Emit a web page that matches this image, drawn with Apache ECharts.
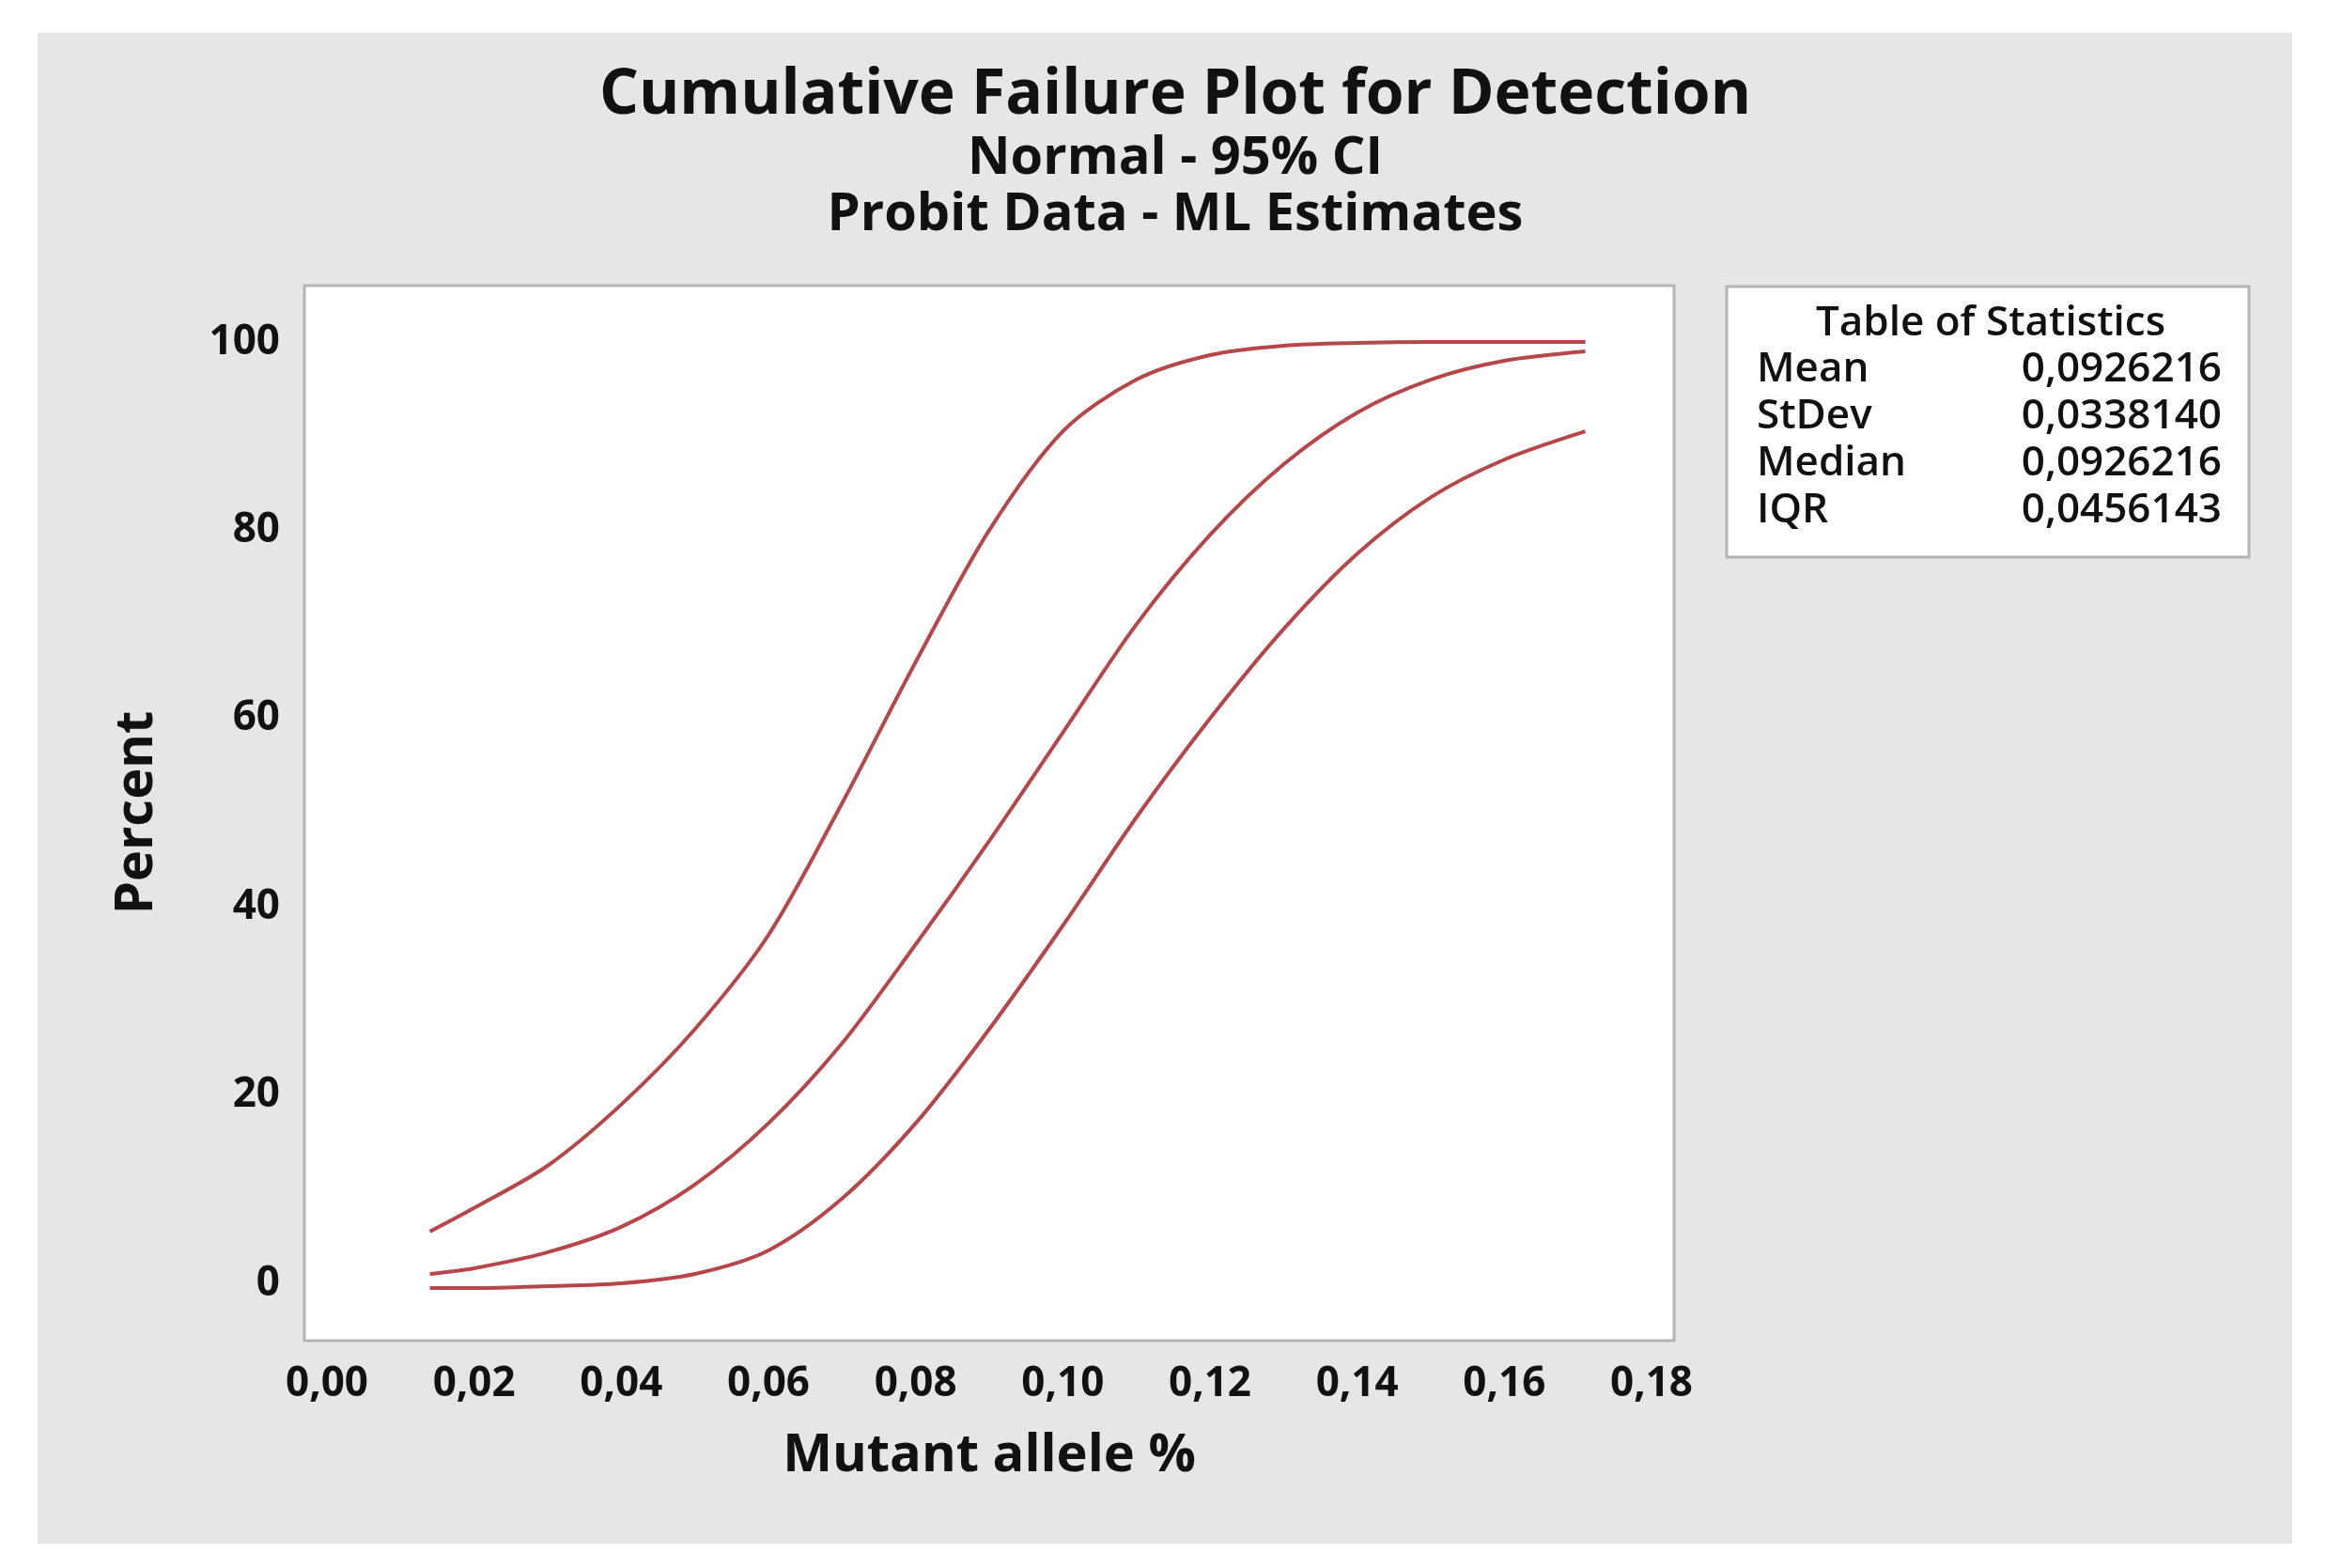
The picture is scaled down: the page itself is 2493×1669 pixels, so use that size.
<!DOCTYPE html><html><head><meta charset="utf-8"><script src="https://cdn.jsdelivr.net/npm/echarts@6/dist/echarts.min.js"></script>
<style>html,body{margin:0;background:#fff}#c{width:2493px;height:1669px}</style></head><body><div id="c"></div><script>
const xs=[0.014,0.02,0.03,0.04,0.05,0.06,0.07,0.08,0.09,0.10,0.11,0.12,0.13,0.14,0.15,0.16,0.171];
const upper=[5.5,8,12.5,19,27,37,51,66,80,90.5,96,98.6,99.6,99.9,100,100,100];
const middle=[1,1.6,3.3,6,10.5,17,25.5,36,47,58.5,70,79.5,87,92.5,96,98,99];
const lower=[-0.5,-0.5,-0.3,0,1,3.5,9,17,27,38,49.5,60,69.5,77.5,83.5,87.5,90.5];
const xTicks=[0,0.02,0.04,0.06,0.08,0.10,0.12,0.14,0.16,0.18];
const statNames=['Mean','StDev','Median','IQR'];
const statValues=['0,0926216','0,0338140','0,0926216','0,0456143'];
const F='"Open Sans", "Noto Sans", sans-serif';
const col='#b5474b';
function ser(v){return {type:'line',smooth:0.3,clip:false,symbol:'none',data:xs.map((x,i)=>[x,v[i]]),lineStyle:{color:col,width:4}};}
const g=[
 {type:'rect',shape:{x:40,y:35,width:2400,height:1608},style:{fill:'#e6e6e6'},z:-10},
 {type:'rect',shape:{x:324,y:304,width:1458,height:1123},style:{fill:'#fff',stroke:'#b4b4b4',lineWidth:3},z:-5},
 {type:'rect',shape:{x:1838,y:305,width:556,height:288},style:{fill:'#fff',stroke:'#b4b4b4',lineWidth:3},z:-5},
 {type:'text',style:{x:2119,y:344,text:'Table of Statistics',font:'600 44px '+F,fill:'#111',textAlign:'center',textVerticalAlign:'middle'}}
];
statNames.forEach((n,i)=>{const y=393+i*50;
 g.push({type:'text',style:{x:1870,y:y,text:n,font:'600 44px '+F,fill:'#111',textVerticalAlign:'middle'}});
 g.push({type:'text',style:{x:2365,y:y,text:statValues[i],font:'600 44px '+F,fill:'#111',textAlign:'right',textVerticalAlign:'middle'}});});
const ch=echarts.init(document.getElementById('c'));
ch.setOption({animation:false,
 title:[{text:'Cumulative Failure Plot for Detection',left:1246,textAlign:'center',top:64,textStyle:{fontFamily:F,fontSize:66,fontWeight:'bold',color:'#111'}},
  {text:'Normal - 95% CI',left:1246,textAlign:'center',top:136,textStyle:{fontFamily:F,fontSize:56,fontWeight:'bold',color:'#111'}},
  {text:'Probit Data - ML Estimates',left:1246,textAlign:'center',top:196,textStyle:{fontFamily:F,fontSize:56,fontWeight:'bold',color:'#111'}}],
 graphic:g,
 grid:{left:348,right:735,top:364,bottom:303},
 xAxis:{type:'value',min:0,max:0.18,interval:0.02,offset:61,name:'Mutant allele %',nameLocation:'middle',nameGap:95,
  nameTextStyle:{fontFamily:F,fontSize:56,fontWeight:'bold',color:'#111'},
  axisLine:{show:false},axisTick:{show:false},splitLine:{show:false},
  axisLabel:{margin:24,fontFamily:F,fontSize:44,fontWeight:'bold',color:'#111',formatter:v=>v.toFixed(2).replace('.',',')}},
 yAxis:{type:'value',min:0,max:100,interval:20,offset:24,name:'Percent',nameLocation:'middle',nameGap:150,
  nameTextStyle:{fontFamily:F,fontSize:56,fontWeight:'bold',color:'#111'},
  axisLine:{show:false},axisTick:{show:false},splitLine:{show:false},
  axisLabel:{margin:26,fontFamily:F,fontSize:44,fontWeight:'bold',color:'#111'}},
 series:[ser(upper),ser(middle),ser(lower)]
});
</script></body></html>
